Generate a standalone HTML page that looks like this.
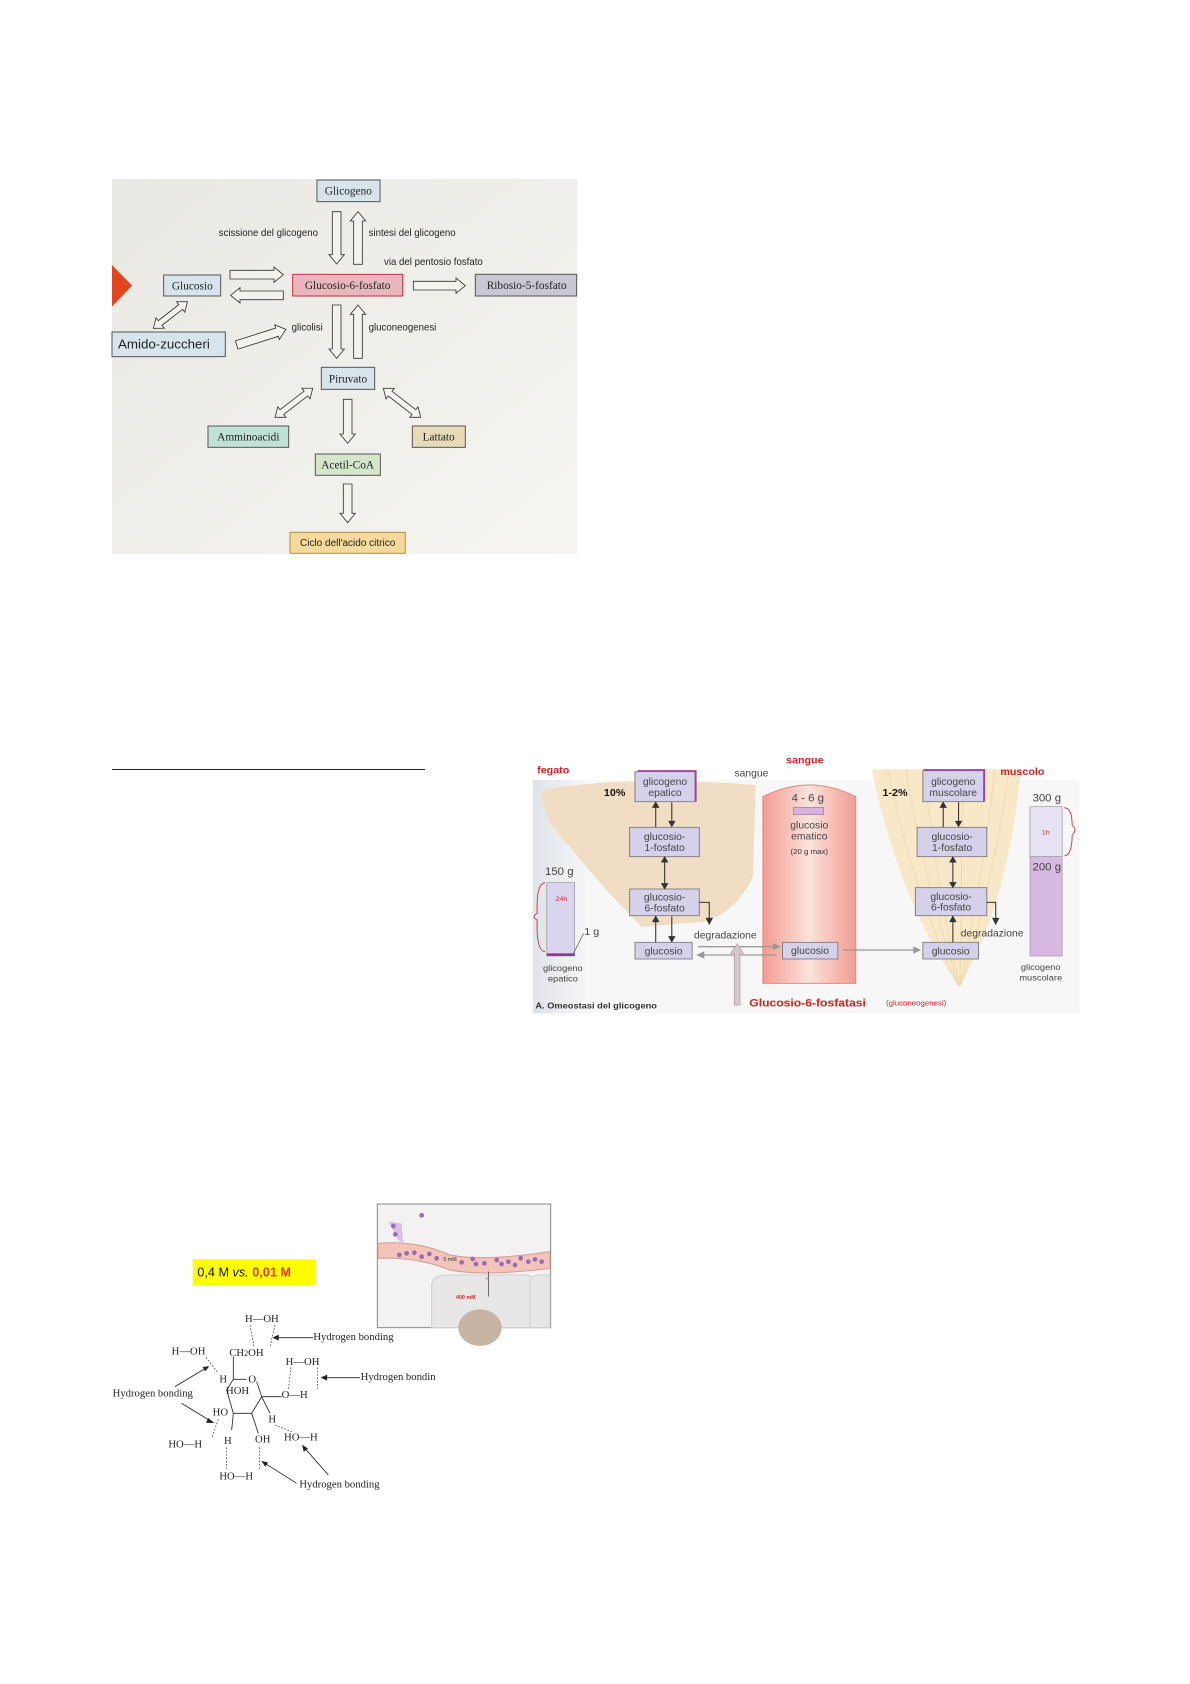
<!DOCTYPE html>
<html><head><meta charset="utf-8"><style>
html,body{margin:0;padding:0;background:#fff;width:1190px;height:1684px;overflow:hidden;position:relative}
svg{position:absolute;display:block}
.s{font-family:"Liberation Serif",serif}
.a{font-family:"Liberation Sans",sans-serif}
</style></head><body>

<!-- Panel 1 -->
<svg style="left:100px;top:170px" width="490" height="400" viewBox="0 0 1470 1200">
<defs>
<linearGradient id="bg1" x1="0" y1="0" x2="1" y2="1"><stop offset="0" stop-color="#e9e8e3"/><stop offset="1" stop-color="#f6f5f1"/></linearGradient>
</defs>
<rect x="36" y="27" width="1396" height="1125" fill="url(#bg1)"/>
<polygon points="36,285 96,347 36,410" fill="#e4471f"/>
<g fill="#f3f2ec" stroke="#333" stroke-width="2.5">
<polygon transform="translate(710,125) rotate(90)" points="0,-13 129,-13 129,-23 157,0 129,23 129,13 0,13"/>
<polygon transform="translate(774,283) rotate(-90)" points="0,-13 130,-13 130,-23 158,0 130,23 130,13 0,13"/>
<polygon transform="translate(390,314)" points="0,-13 132,-13 132,-23 160,0 132,23 132,13 0,13"/>
<polygon transform="translate(550,376) rotate(180)" points="0,-13 130,-13 130,-23 158,0 130,23 130,13 0,13"/>
<polygon transform="translate(940,347)" points="0,-13 128,-13 128,-23 156,0 128,23 128,13 0,13"/>
<polygon transform="translate(710,405) rotate(90)" points="0,-13 132,-13 132,-23 160,0 132,23 132,13 0,13"/>
<polygon transform="translate(774,565) rotate(-90)" points="0,-13 132,-13 132,-23 160,0 132,23 132,13 0,13"/>
<polygon transform="translate(743,688) rotate(90)" points="0,-13 104,-13 104,-23 132,0 104,23 104,13 0,13"/>
<polygon transform="translate(743,942) rotate(90)" points="0,-13 88,-13 88,-23 116,0 88,23 88,13 0,13"/>
<polygon transform="translate(410,525) rotate(-17.6)" points="0,-13 127,-13 127,-23 155,0 127,23 127,13 0,13"/>
<polygon transform="translate(160,475) rotate(-38)" points="0,0 26,-20 26,-9 104,-9 104,-20 130,0 104,20 104,9 26,9 26,20"/>
<polygon transform="translate(525,742) rotate(-37.6)" points="0,0 26,-20 26,-9 117,-9 117,-20 143,0 117,20 117,9 26,9 26,20"/>
<polygon transform="translate(850,655) rotate(37.8)" points="0,0 26,-20 26,-9 116,-9 116,-20 142,0 116,20 116,9 26,9 26,20"/>
</g>
<g stroke="#555" stroke-width="3">
<rect x="651" y="30" width="189" height="65" fill="#d7e4ec"/>
<rect x="191" y="315" width="171" height="63" fill="#d7e4ec"/>
<rect x="578" y="313" width="330" height="65" fill="#e8b6bc" stroke="#c8303c"/>
<rect x="1126" y="313" width="304" height="65" fill="#cac7d4"/>
<rect x="36" y="486" width="340" height="74" fill="#d7e4ec"/>
<rect x="664" y="592" width="160" height="66" fill="#d7e4ec"/>
<rect x="324" y="768" width="242" height="64" fill="#bfe2d4"/>
<rect x="937" y="768" width="159" height="64" fill="#e6dab9"/>
<rect x="646" y="852" width="195" height="64" fill="#d6e6cb"/>
<rect x="570" y="1087" width="346" height="63" fill="#f6da9c" stroke="#b58d45"/>
</g>
<g class="s" font-size="34" fill="#222" text-anchor="middle">
<text x="745" y="74">Glicogeno</text>
<text x="277" y="358">Glucosio</text>
<text x="743" y="357">Glucosio-6-fosfato</text>
<text x="1280" y="357">Ribosio-5-fosfato</text>
<text x="744" y="637">Piruvato</text>
<text x="445" y="812">Amminoacidi</text>
<text x="1016" y="812">Lattato</text>
<text x="743" y="895">Acetil-CoA</text>
</g>
<g class="a" fill="#222" font-size="29">
<text x="356" y="198">scissione del glicogeno</text>
<text x="806" y="198">sintesi del glicogeno</text>
<text x="852" y="285">via del pentosio fosfato</text>
<text x="575" y="482">glicolisi</text>
<text x="806" y="482">gluconeogenesi</text>
<text x="743" y="1128" text-anchor="middle" font-size="30">Ciclo dell'acido citrico</text>
<text x="54" y="536" font-size="40">Amido-zuccheri</text>
</g>
</svg>

<div style="position:absolute;left:112px;top:769px;width:313px;height:1px;background:#222"></div>

<!-- Panel 2 -->
<svg style="left:520px;top:740px" width="560" height="280" viewBox="0 0 1568 840" preserveAspectRatio="none">
<defs>
<linearGradient id="ves" x1="0" x2="1"><stop offset="0" stop-color="#f29b92"/><stop offset="0.5" stop-color="#fbe3dc"/><stop offset="1" stop-color="#f29b92"/></linearGradient>
<linearGradient id="lft" x1="0" x2="1"><stop offset="0" stop-color="#dfe3ea"/><stop offset="1" stop-color="#f6f6f6"/></linearGradient>
</defs>
<rect x="36" y="120" width="1530" height="700" fill="#f7f7f7"/>
<rect x="36" y="120" width="150" height="700" fill="url(#lft)"/>
<path d="M60,150 Q300,105 660,135 L652,410 Q610,510 520,545 L340,560 Q220,430 140,320 Q60,240 60,150Z" fill="#f1dcc4"/>
<path d="M985,88 L1402,88 Q1370,480 1230,742 Q1060,480 985,88Z" fill="#f8e8c8"/>
<g stroke="#efd9b0" stroke-width="3" fill="none">
<path d="M1030,90 Q1100,450 1225,735"/><path d="M1080,90 Q1140,450 1228,735"/><path d="M1130,90 Q1170,450 1230,735"/><path d="M1330,90 Q1290,450 1232,735"/><path d="M1370,90 Q1320,450 1235,735"/><path d="M1240,90 L1232,735"/>
</g>
<path d="M680,730 L680,170 Q810,100 940,170 L940,730Z" fill="url(#ves)" stroke="#e58a80" stroke-width="3"/>
<rect x="766" y="202" width="84" height="22" fill="#d9b3e0" stroke="#888" stroke-width="2"/>
<rect x="75" y="428" width="78" height="220" fill="#dcd5ef" stroke="#999" stroke-width="2"/>
<rect x="75" y="640" width="78" height="8" fill="#8a3a9a"/>
<rect x="1428" y="200" width="90" height="150" fill="#e6e2f3" stroke="#999" stroke-width="2"/>
<rect x="1428" y="350" width="90" height="298" fill="#d8b9e2" stroke="#999" stroke-width="2"/>
<path d="M70,428 Q45,430 48,520 Q30,530 48,540 Q45,632 70,635" fill="none" stroke="#c0303a" stroke-width="2.5"/>
<path d="M1524,203 Q1546,205 1546,255 Q1562,270 1546,285 Q1546,345 1524,348" fill="none" stroke="#c0303a" stroke-width="2.5"/>
<g fill="#d6d1ea" stroke="#777" stroke-width="2.5">
<rect x="322" y="95" width="168" height="90"/>
<rect x="307" y="262" width="195" height="88"/>
<rect x="307" y="447" width="195" height="80"/>
<rect x="322" y="607" width="160" height="50"/>
<rect x="735" y="607" width="155" height="50"/>
<rect x="1128" y="92" width="170" height="93"/>
<rect x="1112" y="262" width="195" height="88"/>
<rect x="1107" y="443" width="200" height="84"/>
<rect x="1128" y="607" width="156" height="50"/>
</g>
<path d="M330,93 L492,93 L492,185" fill="none" stroke="#a040a0" stroke-width="5"/>
<path d="M1130,90 L1300,90 L1300,185" fill="none" stroke="#a040a0" stroke-width="5"/>
<g stroke="#333" stroke-width="3" fill="#333">
<line x1="380" y1="262" x2="380" y2="200"/><polygon points="372,202 388,202 380,187"/>
<line x1="425" y1="187" x2="425" y2="245"/><polygon points="417,244 433,244 425,259"/>
<line x1="405" y1="365" x2="405" y2="432"/><polygon points="397,366 413,366 405,351"/><polygon points="397,431 413,431 405,446"/>
<line x1="380" y1="607" x2="380" y2="545"/><polygon points="372,545 388,545 380,529"/>
<line x1="425" y1="529" x2="425" y2="590"/><polygon points="417,590 433,590 425,605"/>
<polyline points="502,487 530,487 530,535" fill="none"/><polygon points="522,535 538,535 530,552"/>
<line x1="1185" y1="262" x2="1185" y2="200"/><polygon points="1177,202 1193,202 1185,187"/>
<line x1="1228" y1="187" x2="1228" y2="245"/><polygon points="1220,244 1236,244 1228,259"/>
<line x1="1212" y1="365" x2="1212" y2="428"/><polygon points="1204,366 1220,366 1212,351"/><polygon points="1204,428 1220,428 1212,442"/>
<line x1="1212" y1="607" x2="1212" y2="545"/><polygon points="1204,545 1220,545 1212,529"/>
<polyline points="1307,487 1332,487 1332,535" fill="none"/><polygon points="1324,535 1340,535 1332,552"/>
</g>
<g stroke="#999" stroke-width="4" fill="#999">
<line x1="498" y1="620" x2="712" y2="620"/><polygon points="710,612 726,620 710,628"/>
<line x1="718" y1="645" x2="512" y2="645"/><polygon points="514,637 498,645 514,653"/>
<line x1="905" y1="630" x2="1105" y2="630"/><polygon points="1103,622 1119,630 1103,638"/>
</g>
<path d="M600,795 L600,640 L590,640 L608,612 L626,640 L616,640 L616,795Z" fill="#c8cdd2" stroke="#e48a8a" stroke-width="2"/>
<g class="a" text-anchor="middle" fill="#444" font-size="29">
<text x="406" y="135">glicogeno</text><text x="406" y="168">epatico</text>
<text x="405" y="300">glucosio-</text><text x="405" y="333">1-fosfato</text>
<text x="405" y="482">glucosio-</text><text x="405" y="515">6-fosfato</text>
<text x="402" y="643">glucosio</text>
<text x="812" y="642">glucosio</text>
<text x="1213" y="135">glicogeno</text><text x="1213" y="168">muscolare</text>
<text x="1210" y="300">glucosio-</text><text x="1210" y="333">1-fosfato</text>
<text x="1207" y="480">glucosio-</text><text x="1207" y="512">6-fosfato</text>
<text x="1206" y="643">glucosio</text>
<text x="806" y="184" font-size="32">4 - 6 g</text>
<text x="810" y="265">glucosio</text><text x="810" y="298">ematico</text>
<text x="810" y="342" font-size="22" fill="#333">(20 g max)</text>
<text x="648" y="110">sangue</text>
<text x="110" y="405" font-size="32">150 g</text>
<text x="1475" y="185" font-size="32">300 g</text>
<text x="1475" y="392" font-size="32">200 g</text>
<text x="120" y="693" font-size="26">glicogeno</text><text x="120" y="725" font-size="26">epatico</text>
<text x="1458" y="690" font-size="26">glicogeno</text><text x="1458" y="722" font-size="26">muscolare</text>
<text x="575" y="595">degradazione</text>
<text x="1322" y="590">degradazione</text>
</g>
<text x="180" y="585" class="a" font-size="30" fill="#444">1 g</text>
<line x1="150" y1="640" x2="178" y2="580" stroke="#555" stroke-width="2"/>
<text x="116" y="483" font-size="20" fill="#d03030" class="a" text-anchor="middle">24h</text>
<text x="1472" y="283" font-size="20" fill="#d03030" class="a" text-anchor="middle">1h</text>
<g class="a" font-weight="bold">
<text x="48" y="100" font-size="30" fill="#d42020">fegato</text>
<text x="745" y="70" font-size="30" fill="#d42020">sangue</text>
<text x="1345" y="105" font-size="30" fill="#d42020">muscolo</text>
<text x="235" y="168" font-size="30" fill="#111">10%</text>
<text x="1015" y="168" font-size="30" fill="#111">1-2%</text>
<text x="43" y="805" font-size="26" fill="#333">A. Omeostasi del glicogeno</text>
<text x="642" y="800" font-size="34" fill="#d42020">Glucosio-6-fosfatasi</text>
</g>
<text x="1025" y="797" class="a" font-size="22" fill="#d42020">(gluconeogenesi)</text>
</svg>

<!-- Panel 3 -->
<svg style="left:100px;top:1190px" width="460" height="320" viewBox="0 0 1380 960">
<rect x="832" y="42" width="520" height="371" fill="#f3f1f1" stroke="#888" stroke-width="3"/>
<path d="M995,413 L995,290 Q995,255 1040,255 L1280,255 Q1300,255 1300,290 L1300,413Z" fill="#e8e6e6" stroke="#cfcfcf" stroke-width="3"/>
<path d="M1290,413 L1290,270 Q1295,255 1320,255 L1350,255 L1350,413Z" fill="#e8e6e6" stroke="#cfcfcf" stroke-width="3"/>
<ellipse cx="1140" cy="413" rx="65" ry="55" fill="#c8b4a2"/>
<path d="M834,160 Q950,150 1050,195 Q1150,215 1350,185 L1350,235 Q1150,260 1050,240 Q950,200 834,205Z" fill="#f2c4bc" stroke="#d89a90" stroke-width="3"/>
<path d="M865,95 L905,100 L910,160 L895,150Z" fill="#d5c3e6"/>
<g fill="#9b6bb0">
<circle cx="880" cy="108" r="7"/><circle cx="886" cy="133" r="7"/><circle cx="965" cy="76" r="7"/>
<circle cx="898" cy="195" r="7"/><circle cx="920" cy="190" r="7"/><circle cx="943" cy="188" r="7"/><circle cx="965" cy="200" r="7"/><circle cx="988" cy="192" r="7"/><circle cx="1010" cy="205" r="7"/>
<circle cx="1085" cy="217" r="7"/><circle cx="1118" cy="207" r="7"/><circle cx="1128" cy="222" r="7"/><circle cx="1153" cy="220" r="7"/><circle cx="1190" cy="210" r="7"/><circle cx="1205" cy="222" r="7"/><circle cx="1225" cy="215" r="7"/><circle cx="1245" cy="225" r="7"/><circle cx="1262" cy="205" r="7"/><circle cx="1285" cy="215" r="7"/><circle cx="1305" cy="208" r="7"/><circle cx="1325" cy="215" r="7"/>
</g>
<text x="1030" y="213" class="a" font-size="16" fill="#333">5 mM</text>
<text x="1068" y="327" class="a" font-size="16" fill="#d03030" font-weight="bold">400 mM</text>
<line x1="1165" y1="245" x2="1165" y2="320" stroke="#333" stroke-width="2"/>
<text x="1155" y="272" font-size="20" fill="#d03030">×</text>
<rect x="278" y="208" width="370" height="77" fill="#ffff00"/>
<text x="292" y="260" font-family="Liberation Sans,sans-serif" font-size="38" fill="#111">0,4 M <tspan font-style="italic">vs.</tspan> <tspan fill="#e03a1a" font-weight="bold">0,01 M</tspan></text>
<g class="s" font-size="32" fill="#222">
<text x="435" y="396">H—OH</text>
<text x="215" y="494">H—OH</text>
<text x="388" y="498">CH<tspan font-size="24">2</tspan>OH</text>
<text x="557" y="525">H—OH</text>
<text x="358" y="578">H</text><text x="445" y="578">O</text>
<text x="378" y="612">HOH</text>
<text x="545" y="624">O—H</text>
<text x="338" y="676">HO</text>
<text x="505" y="698">H</text>
<text x="205" y="772">HO—H</text>
<text x="372" y="762">H</text>
<text x="465" y="758">OH</text>
<text x="552" y="752">HO—H</text>
<text x="358" y="868">HO—H</text>
<text x="640" y="450">Hydrogen bonding</text>
<text x="782" y="570">Hydrogen bondin</text>
<text x="38" y="620">Hydrogen bonding</text>
<text x="598" y="892">Hydrogen bonding</text>
</g>
<g stroke="#222" stroke-width="2.5" fill="none">
<path d="M400,500 L400,568 M400,568 L440,568 M380,600 L400,568 M380,600 L400,670 L455,670 L485,620 L470,575 M400,670 L395,720 M455,670 L475,730 M485,620 L545,620 M485,620 L510,670"/>
<line x1="640" y1="443" x2="525" y2="443"/><polygon points="520,443 535,436 535,450" fill="#222"/>
<line x1="780" y1="563" x2="670" y2="563"/><polygon points="665,563 680,556 680,570" fill="#222"/>
<line x1="225" y1="590" x2="320" y2="533"/><polygon points="325,530 310,532 316,542" fill="#222"/>
<line x1="245" y1="640" x2="335" y2="695"/><polygon points="340,698 325,686 320,697" fill="#222"/>
<line x1="590" y1="880" x2="492" y2="818"/><polygon points="487,815 496,828 502,818" fill="#222"/>
<line x1="685" y1="855" x2="612" y2="772"/><polygon points="608,767 612,783 622,776" fill="#222"/>
</g>
<g stroke="#222" stroke-width="2" stroke-dasharray="5,5">
<line x1="450" y1="405" x2="462" y2="470"/><line x1="525" y1="405" x2="510" y2="470"/>
<line x1="318" y1="502" x2="355" y2="550"/>
<line x1="573" y1="532" x2="565" y2="598"/><line x1="652" y1="532" x2="652" y2="598"/>
<line x1="355" y1="688" x2="335" y2="745"/>
<line x1="525" y1="705" x2="575" y2="725"/>
<line x1="380" y1="772" x2="380" y2="838"/><line x1="478" y1="772" x2="478" y2="838"/>
</g>
</svg>
</body></html>
